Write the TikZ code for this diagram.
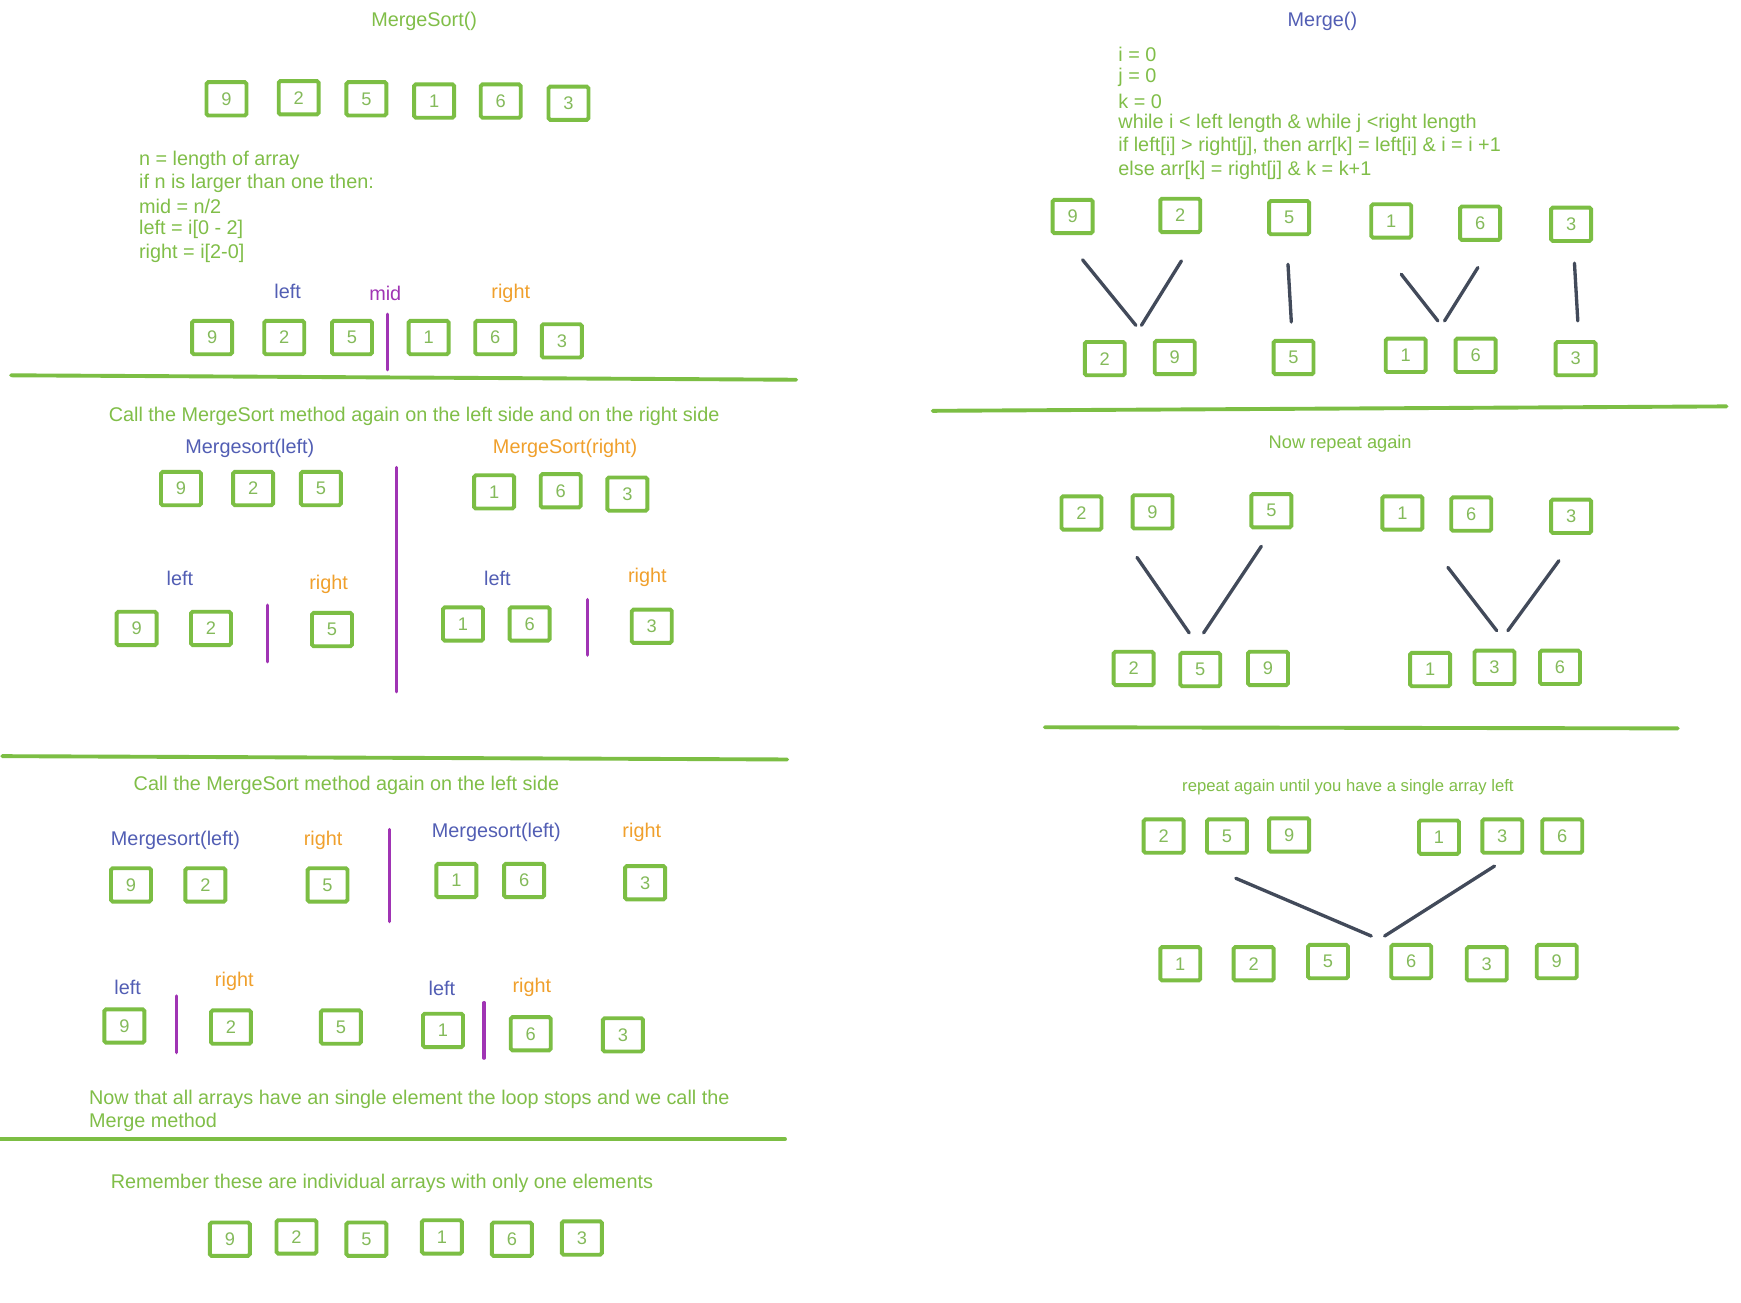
\documentclass[tikz,border=0pt]{standalone}
\usepackage{fontspec}
\setmainfont{Liberation Sans}
\newlength{\du}
\setlength{\du}{0.7\unitlength}
\definecolor{boxgreen}{RGB}{124,190,68}
\definecolor{notegreen}{RGB}{128,190,72}
\definecolor{digitgreen}{RGB}{132,186,90}
\definecolor{tagblue}{RGB}{82,94,180}
\definecolor{tagorange}{RGB}{240,160,44}
\definecolor{splitpurple}{RGB}{160,52,180}
\definecolor{mergegray}{RGB}{66,74,90}
\tikzset{
  cell/.style={draw=boxgreen, line width=3.5\du, rounded corners=1.5\du,
    minimum width=36\du, minimum height=30\du, inner sep=0pt,
    text=digitgreen, font=\fontsize{11.5}{13}\selectfont},
  note/.style={text=notegreen, inner sep=0pt, font=\fontsize{12.5}{15}\selectfont},
  small note/.style={note, font=\fontsize{10.5}{12}\selectfont},
  lefttag/.style={note, text=tagblue},
  righttag/.style={note, text=tagorange},
  midtag/.style={note, text=splitpurple},
  divider/.style={draw=boxgreen, line width=3.5\du, line cap=round},
  split/.style={draw=splitpurple, line width=3\du, line cap=round},
  merge/.style={draw=mergegray, line width=3\du, line cap=round}
}

\begin{document}
\begin{tikzpicture}
\pgftransformxscale{1.000000}
\pgftransformyscale{-1.000000}
\fill[white] (0\du,0\du) rectangle (1568\du,1173\du);
\useasboundingbox (0\du,0\du) rectangle (1568\du,1173\du);
% MergeSort side
\node[note] (sortTitle) at (382\du,19\du) {MergeSort()};
\node[cell] (a1) at (204\du,89\du) {9};
\node[cell] (a2) at (269\du,88\du) {2};
\node[cell] (a3) at (330\du,89\du) {5};
\node[cell] (a4) at (391\du,91\du) {1};
\node[cell] (a5) at (451\du,91\du) {6};
\node[cell] (a6) at (512\du,93\du) {3};
\node[note, anchor=west] (stepA) at (125\du,144\du) {n = length of array};
\node[note, anchor=west] (stepB) at (125\du,165\du) {if n is larger than one then:};
\node[note, anchor=west] (stepC) at (125\du,186\du) {mid = n/2};
\node[note, anchor=west] (stepD) at (125\du,207\du) {left = i[0 - 2]};
\node[note, anchor=west] (stepE) at (125\du,228\du) {right = i[2-0]};
\node[lefttag] (leftA) at (259\du,262\du) {left};
\node[midtag] (midA) at (347\du,264\du) {mid};
\node[righttag] (rightA) at (460\du,264\du) {right};
\node[cell] (b1) at (191\du,304\du) {9};
\node[cell] (b2) at (256\du,304\du) {2};
\node[cell] (b3) at (317\du,304\du) {5};
\node[cell] (b4) at (386\du,304\du) {1};
\node[cell] (b5) at (446\du,304\du) {6};
\node[cell] (b6) at (506\du,307\du) {3};
\coordinate (cutA1) at (349\du,283\du);
\coordinate (cutA2) at (349\du,333\du);
\draw[split] (cutA1) -- (cutA2);
\coordinate (rule1a) at (10\du,338\du);
\coordinate (rule1b) at (717\du,342\du);
\draw[divider] (rule1a) -- (rule1b);
% first split
\node[note] (callBoth) at (373\du,375\du) {Call the MergeSort method again on the left side and on the right side};
\node[lefttag] (sortLeftA) at (225\du,404\du) {Mergesort(left)};
\node[righttag] (sortRightA) at (509\du,404\du) {MergeSort(right)};
\node[cell] (c1) at (163\du,440\du) {9};
\node[cell] (c2) at (228\du,440\du) {2};
\node[cell] (c3) at (289\du,440\du) {5};
\node[cell] (c4) at (445\du,443\du) {1};
\node[cell] (c5) at (505\du,442\du) {6};
\node[cell] (c6) at (565\du,445\du) {3};
\coordinate (cutB1) at (357\du,421\du);
\coordinate (cutB2) at (357\du,623\du);
\draw[split] (cutB1) -- (cutB2);
\node[lefttag] (leftB) at (162\du,521\du) {left};
\node[righttag] (rightB) at (296\du,526\du) {right};
\node[cell] (d1) at (123\du,566\du) {9};
\node[cell] (d2) at (190\du,566\du) {2};
\node[cell] (d3) at (299\du,567\du) {5};
\coordinate (cutC1) at (241\du,545\du);
\coordinate (cutC2) at (241\du,596\du);
\draw[split] (cutC1) -- (cutC2);
\node[lefttag] (leftC) at (448\du,521\du) {left};
\node[righttag] (rightC) at (583\du,520\du) {right};
\node[cell] (d4) at (417\du,562\du) {1};
\node[cell] (d5) at (477\du,562\du) {6};
\node[cell] (d6) at (587\du,564\du) {3};
\coordinate (cutD1) at (529\du,540\du);
\coordinate (cutD2) at (529\du,590\du);
\draw[split] (cutD1) -- (cutD2);
\coordinate (rule2a) at (2\du,681\du);
\coordinate (rule2b) at (709\du,684\du);
\draw[divider] (rule2a) -- (rule2b);
% second split
\node[note] (callLeft) at (312\du,707\du) {Call the MergeSort method again on the left side};
\node[lefttag] (sortLeftB) at (158\du,757\du) {Mergesort(left)};
\node[righttag] (rightD) at (291\du,757\du) {right};
\node[cell] (e1) at (118\du,797\du) {9};
\node[cell] (e2) at (185\du,797\du) {2};
\node[cell] (e3) at (295\du,797\du) {5};
\coordinate (cutE1) at (351\du,747\du);
\coordinate (cutE2) at (351\du,830\du);
\draw[split] (cutE1) -- (cutE2);
\node[lefttag] (sortLeftC) at (447\du,750\du) {Mergesort(left)};
\node[righttag] (rightE) at (578\du,750\du) {right};
\node[cell] (e4) at (411\du,793\du) {1};
\node[cell] (e5) at (472\du,793\du) {6};
\node[cell] (e6) at (581\du,795\du) {3};
\node[lefttag] (leftF) at (115\du,889\du) {left};
\node[righttag] (rightF) at (211\du,884\du) {right};
\node[cell] (f1) at (112\du,924\du) {9};
\node[cell] (f2) at (208\du,925\du) {2};
\node[cell] (f3) at (307\du,925\du) {5};
\coordinate (cutF1) at (159\du,897\du);
\coordinate (cutF2) at (159\du,948\du);
\draw[split] (cutF1) -- (cutF2);
\node[lefttag] (leftG) at (398\du,890\du) {left};
\node[righttag] (rightG) at (479\du,889\du) {right};
\node[cell] (f4) at (399\du,928\du) {1};
\node[cell] (f5) at (478\du,931\du) {6};
\node[cell] (f6) at (561\du,932\du) {3};
\coordinate (cutG1) at (436\du,903\du);
\coordinate (cutG2) at (436\du,953\du);
\draw[split] (cutG1) -- (cutG2);
\node[note, anchor=west] (stopA) at (80\du,990\du) {Now that all arrays have an single element the loop stops and we call the};
\node[note, anchor=west] (stopB) at (80\du,1011\du) {Merge method};
\coordinate (rule3a) at (0\du,1026\du);
\coordinate (rule3b) at (707\du,1026\du);
\draw[divider] (rule3a) -- (rule3b);
\node[note] (remember) at (344\du,1066\du) {Remember these are individual arrays with only one elements};
\node[cell] (g1) at (207\du,1116\du) {9};
\node[cell] (g2) at (267\du,1114\du) {2};
\node[cell] (g3) at (330\du,1116\du) {5};
\node[cell] (g4) at (398\du,1114\du) {1};
\node[cell] (g5) at (461\du,1116\du) {6};
\node[cell] (g6) at (524\du,1115\du) {3};
% Merge side
\node[lefttag] (mergeTitle) at (1191\du,19\du) {Merge()};
\node[note, anchor=west] (codeA) at (1007\du,49\du) {i = 0};
\node[note, anchor=west] (codeB) at (1007\du,70\du) {j = 0};
\node[note, anchor=west] (codeC) at (1007\du,91\du) {k = 0};
\node[note, anchor=west] (codeD) at (1007\du,111\du) {while i < left length \& while j <right length};
\node[note, anchor=west] (codeE) at (1007\du,132\du) {if left[i] > right[j], then arr[k] = left[i] \& i = i +1};
\node[note, anchor=west] (codeF) at (1007\du,153\du) {else arr[k] = right[j] \& k = k+1};
\node[cell] (h1) at (966\du,195\du) {9};
\node[cell] (h2) at (1063\du,194\du) {2};
\node[cell] (h3) at (1161\du,196\du) {5};
\node[cell] (h4) at (1253\du,199\du) {1};
\node[cell] (h5) at (1333\du,201\du) {6};
\node[cell] (h6) at (1415\du,202\du) {3};
\coordinate (joinA1) at (975\du,234\du);
\coordinate (joinA2) at (1064\du,235\du);
\coordinate (joinAl) at (1023\du,293\du);
\coordinate (joinAr) at (1028\du,293\du);
\coordinate (joinB1) at (1160\du,238\du);
\coordinate (joinB) at (1163\du,290\du);
\coordinate (joinC1) at (1262\du,247\du);
\coordinate (joinC2) at (1331\du,241\du);
\coordinate (joinCl) at (1295\du,289\du);
\coordinate (joinCr) at (1301\du,289\du);
\coordinate (joinD1) at (1418\du,237\du);
\coordinate (joinD) at (1421\du,289\du);
\draw[merge] (joinA1) -- (joinAl);
\draw[merge] (joinA2) -- (joinAr);
\draw[merge] (joinB1) -- (joinB);
\draw[merge] (joinC1) -- (joinCl);
\draw[merge] (joinC2) -- (joinCr);
\draw[merge] (joinD1) -- (joinD);
\node[cell] (i1) at (995\du,323\du) {2};
\node[cell] (i2) at (1058\du,322\du) {9};
\node[cell] (i3) at (1165\du,322\du) {5};
\node[cell] (i4) at (1266\du,320\du) {1};
\node[cell] (i5) at (1329\du,320\du) {6};
\node[cell] (i6) at (1419\du,323\du) {3};
\coordinate (rule4a) at (840\du,370\du);
\coordinate (rule4b) at (1555\du,366\du);
\draw[divider] (rule4a) -- (rule4b);
\node[note, font=\fontsize{11.5}{14}\selectfont] (repeatA) at (1207\du,400\du) {Now repeat again};
\node[cell] (j1) at (974\du,462\du) {2};
\node[cell] (j2) at (1038\du,461\du) {9};
\node[cell] (j3) at (1145\du,460\du) {5};
\node[cell] (j4) at (1263\du,462\du) {1};
\node[cell] (j5) at (1325\du,463\du) {6};
\node[cell] (j6) at (1415\du,465\du) {3};
\coordinate (joinE1) at (1024\du,502\du);
\coordinate (joinE2) at (1136\du,492\du);
\coordinate (joinEl) at (1071\du,570\du);
\coordinate (joinEr) at (1084\du,570\du);
\coordinate (joinF1) at (1304\du,511\du);
\coordinate (joinF2) at (1404\du,505\du);
\coordinate (joinFl) at (1348\du,568\du);
\coordinate (joinFr) at (1358\du,568\du);
\draw[merge] (joinE1) -- (joinEl);
\draw[merge] (joinE2) -- (joinEr);
\draw[merge] (joinF1) -- (joinFl);
\draw[merge] (joinF2) -- (joinFr);
\node[cell] (k1) at (1021\du,602\du) {2};
\node[cell] (k2) at (1081\du,603\du) {5};
\node[cell] (k3) at (1142\du,602\du) {9};
\node[cell] (k4) at (1288\du,603\du) {1};
\node[cell] (k5) at (1346\du,601\du) {3};
\node[cell] (k6) at (1405\du,601\du) {6};
\coordinate (rule5a) at (941\du,655\du);
\coordinate (rule5b) at (1511\du,656\du);
\draw[divider] (rule5a) -- (rule5b);
\node[small note] (repeatB) at (1214\du,709\du) {repeat again until you have a single array left};
\node[cell] (l1) at (1048\du,753\du) {2};
\node[cell] (l2) at (1105\du,753\du) {5};
\node[cell] (l3) at (1161\du,752\du) {9};
\node[cell] (l4) at (1296\du,754\du) {1};
\node[cell] (l5) at (1353\du,753\du) {3};
\node[cell] (l6) at (1407\du,753\du) {6};
\coordinate (joinG1) at (1113\du,791\du);
\coordinate (joinG2) at (1346\du,780\du);
\coordinate (joinGl) at (1235\du,843\du);
\coordinate (joinGr) at (1247\du,843\du);
\draw[merge] (joinG1) -- (joinGl);
\draw[merge] (joinG2) -- (joinGr);
\node[cell] (m1) at (1063\du,868\du) {1};
\node[cell] (m2) at (1129\du,868\du) {2};
\node[cell] (m3) at (1196\du,866\du) {5};
\node[cell] (m4) at (1271\du,866\du) {6};
\node[cell] (m5) at (1339\du,868\du) {3};
\node[cell] (m6) at (1402\du,866\du) {9};
\end{tikzpicture}
\end{document}
